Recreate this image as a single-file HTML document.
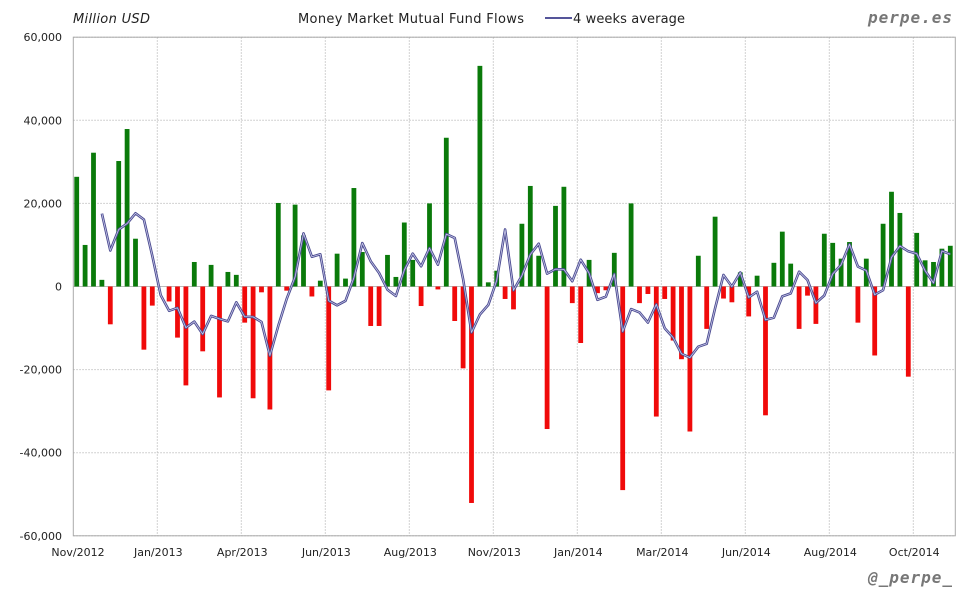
<!DOCTYPE html>
<html><head><meta charset="utf-8"><style>
body{margin:0;background:#fff;width:980px;height:600px;overflow:hidden;font-family:"DejaVu Sans","Liberation Sans",sans-serif}
</style></head><body>
<svg id="chart" width="980" height="600" xmlns="http://www.w3.org/2000/svg">
<text x="73" y="23" font-size="13" font-style="italic" fill="#222" font-family="DejaVu Sans, sans-serif" textLength="77">Million USD</text>
<text x="298" y="23" font-size="13" fill="#222" textLength="226">Money Market Mutual Fund Flows</text>
<line x1="545" y1="18" x2="572" y2="18" stroke="#55559a" stroke-width="2"/>
<text x="573" y="23" font-size="13" fill="#222" textLength="112">4 weeks average</text>
<text x="953" y="23" text-anchor="end" font-size="16" font-weight="bold" font-style="italic" fill="#777" font-family="DejaVu Sans Mono, monospace" letter-spacing="1">perpe.es</text>
<text x="953" y="583" text-anchor="end" font-size="16" font-weight="bold" font-style="italic" fill="#777" font-family="DejaVu Sans Mono, monospace" letter-spacing="1">@_perpe_</text>
<g id="grid"></g><g id="bars"></g><g id="line"></g><g id="axes"></g>
</svg>
<script>
const yTicks=[60000,40000,20000,0,-20000,-40000,-60000];
const xTickLabels=["Nov/2012","Jan/2013","Apr/2013","Jun/2013","Aug/2013","Nov/2013","Jan/2014","Mar/2014","Jun/2014","Aug/2014","Oct/2014"];
const flows=[26400,10000,32200,1600,-9100,30200,37900,11500,-15200,-4600,0,-3600,-12300,-23800,5900,-15600,5200,-26700,3500,2800,-8700,-26900,-1400,-29600,20100,-1000,19700,12300,-2400,1400,-25000,7900,1900,23700,
8300,-9500,-9500,7600,2300,15400,6400,-4700,20000,-700,35800,-8300,-19700,-52100,53100,1000,3800,-3000,-5500,15100,24200,7400,-34300,19400,24000,-4000,-13600,6400,-1600,-900,8100,-49000,20000,-4000,-1800,
-31300,-3000,-13000,-17500,-34900,7400,-10200,16800,-2900,-3800,3400,-7200,2600,-31000,5700,13200,5500,-10200,-2200,-9000,12700,10500,6700,10700,-8700,6700,-16600,15100,22800,17700,-21700,12900,6300,5900,9100,9800];
const NS="http://www.w3.org/2000/svg";
const L=73.3,R=955.3,T=37.2,B=535.8,WEEK=8.4;
function x(i){return L+3.4+WEEK*i;}
function y(v){return 286.5-v*83.1/20000;}
function mk(tag,attrs,parent){const e=document.createElementNS(NS,tag);for(const k in attrs)e.setAttribute(k,attrs[k]);document.getElementById(parent).appendChild(e);return e;}
// grid
yTicks.forEach(v=>{
  const g=mk('line',{x1:L,x2:R,y1:y(v),y2:y(v),stroke:(v===0?'#bbb':'#c4c4c4'),'stroke-dasharray':(v===0?'':'1.5,1.5'),'stroke-width':1},'grid');
  
  
  const t=mk('text',{x:62,y:y(v)+4,'text-anchor':'end','font-size':11,fill:'#222'},'axes');
  t.textContent=v.toLocaleString('en-US');
  
  
});
xTickLabels.forEach((s,k)=>{
  const gx=L+k*10*WEEK;
  if(k>0){const g=mk('line',{x1:gx,x2:gx,y1:T,y2:B,stroke:'#c4c4c4','stroke-dasharray':'1.5,1.5'},'grid');
  
  }
  const t=mk('text',{x:(k===0?78:gx+1),y:556,'text-anchor':'middle','font-size':11,fill:'#222'},'axes');
  t.textContent=s;
  
  
});
const fr=mk('rect',{x:L,y:T,width:R-L,height:B-T,fill:'none',stroke:'#aaa','stroke-width':1},'axes');


// bars
flows.forEach((v,i)=>{
  const y0=y(0),y1=y(v);
  const b=mk('rect',{x:x(i)-2.4,y:Math.min(y0,y1),width:4.8,height:Math.abs(y1-y0),fill:(v>=0?'#0a7a0a':'#f00a0a')},'bars');
  
  
});
// 4 week average
let pts=[];
for(let i=3;i<flows.length;i++){const a=(flows[i]+flows[i-1]+flows[i-2]+flows[i-3])/4;pts.push(x(i).toFixed(1)+','+y(a).toFixed(1));}
const l1=mk('polyline',{points:pts.join(' '),fill:'none',stroke:'#4a4a90','stroke-width':2.6,'stroke-linejoin':'round'},'line');


const l2=mk('polyline',{points:pts.join(' '),fill:'none',stroke:'#c8c8e8','stroke-width':0.8,'stroke-linejoin':'round'},'line');


</script>
</body></html>
